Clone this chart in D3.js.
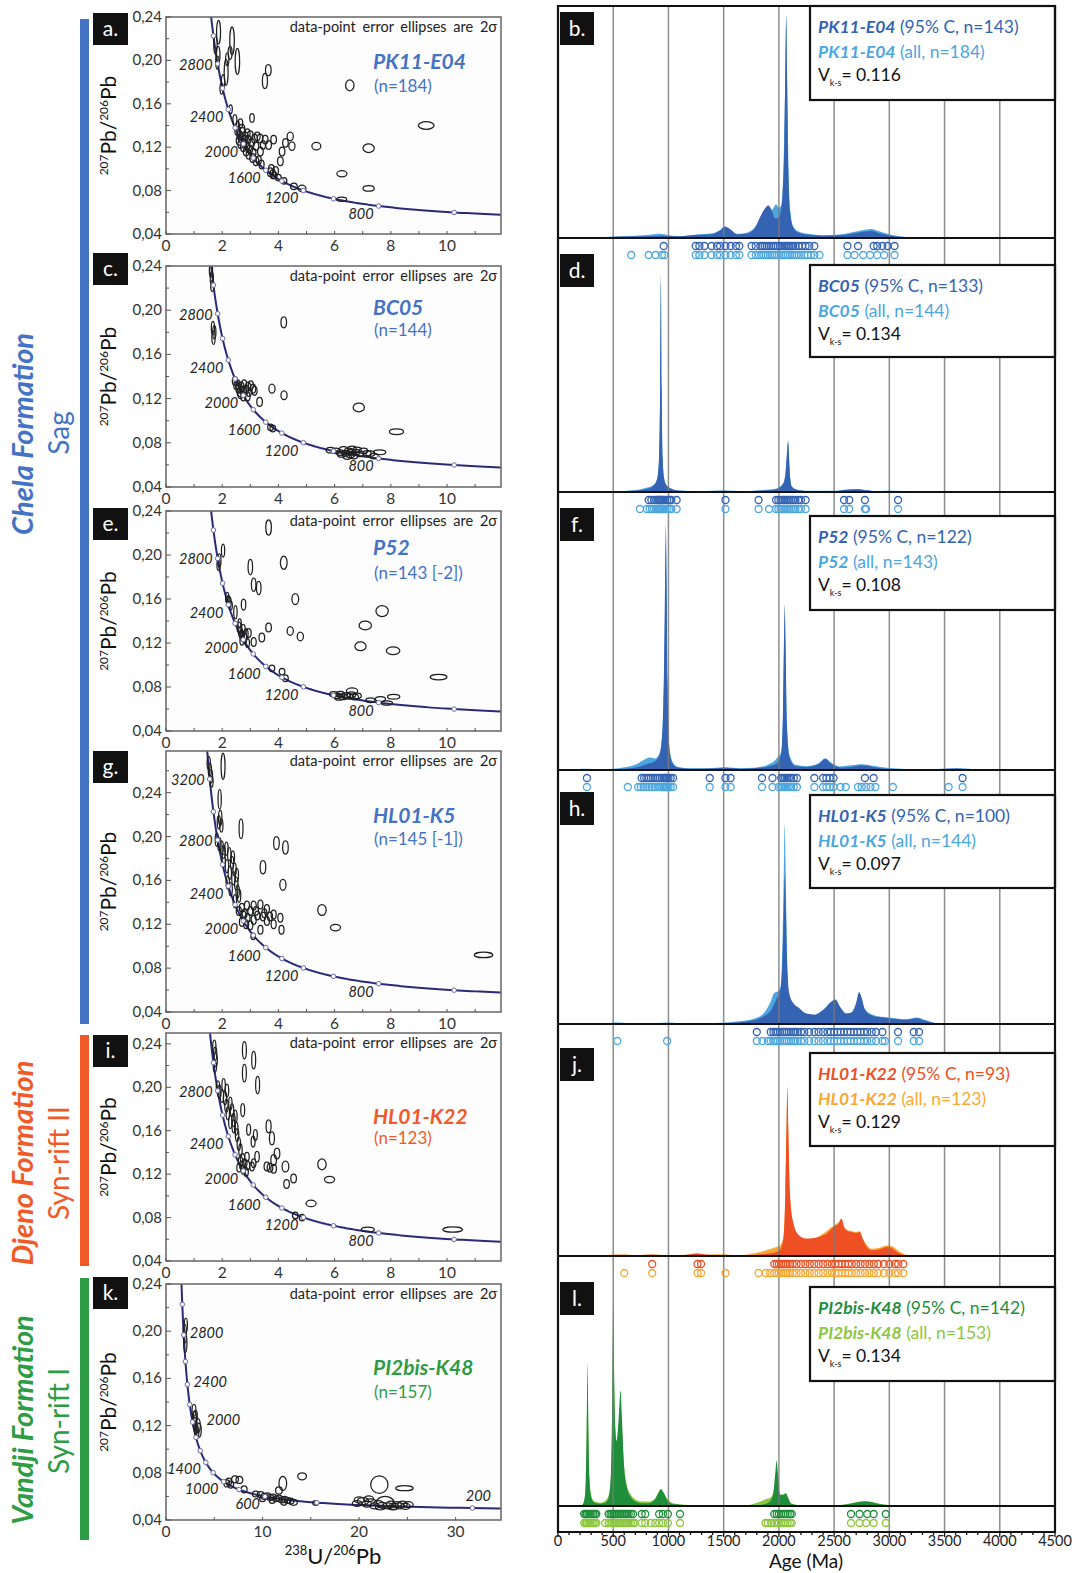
<!DOCTYPE html>
<html><head><meta charset="utf-8">
<script src="https://cdn.jsdelivr.net/npm/d3@7"></script>
<style>body{margin:0;background:#fff}svg{display:block}text{font-family:Lato,"Open Sans",sans-serif}</style>
</head><body><svg id="c" width="1076" height="1573"></svg>
<script>
// ================= DATA =================
const concordiaTickAges=[200,400,600,800,1000,1200,1400,1600,1800,2000,2200,2400,2600,2800,3000,3200,3400];
const labelsStd=[2800,2400,2000,1600,1200,800];
const labelsG=[3200,2800,2400,2000,1600,1200,800];
const labelsK=[2800,2400,2000,1400,1000,600,200];
const yTicks=[0.04,0.08,0.12,0.16,0.20,0.24];
const xTicksStd=[0,2,4,6,8,10];
const xTicksK=[0,10,20,30];
const ageTicks=[0,500,1000,1500,2000,2500,3000,3500,4000,4500];

// Tera-Wasserburg ellipses: [238U/206Pb, 207Pb/206Pb, semi-axis x, semi-axis y]
const ellA=[[1.87,0.226,0.07,0.011],[1.76,0.214,0.06,0.008],[1.85,0.205,0.07,0.008],[1.83,0.198,0.06,0.006],[2.35,0.218,0.08,0.013],[2.28,0.207,0.07,0.006],[2.18,0.201,0.06,0.006],[2.54,0.199,0.08,0.012],[2.14,0.189,0.07,0.012],[2.03,0.180,0.06,0.007],[1.98,0.174,0.06,0.005],[3.64,0.191,0.1,0.005],[3.52,0.181,0.09,0.007],[6.54,0.177,0.15,0.005],[9.26,0.140,0.28,0.0035],[7.21,0.119,0.2,0.004],[5.35,0.121,0.16,0.0035],[6.26,0.0955,0.18,0.0028],[7.21,0.082,0.2,0.0025],[6.25,0.072,0.18,0.002],[4.84,0.082,0.14,0.003],[4.55,0.084,0.12,0.003],[2.3,0.155,0.06,0.004],[2.45,0.145,0.07,0.005],[2.55,0.14,0.06,0.004],[3.06,0.147,0.08,0.004],[2.65,0.142,0.08,0.004],[2.55,0.135,0.1,0.004],[2.62,0.131,0.1,0.004],[2.68,0.128,0.1,0.004],[2.72,0.134,0.1,0.004],[2.78,0.124,0.1,0.004],[2.82,0.13,0.1,0.004],[2.88,0.121,0.1,0.004],[2.92,0.127,0.1,0.004],[2.98,0.118,0.1,0.004],[2.75,0.12,0.1,0.004],[2.85,0.116,0.1,0.004],[2.95,0.113,0.1,0.004],[2.6,0.126,0.1,0.004],[2.7,0.137,0.1,0.004],[3.0,0.131,0.1,0.004],[3.05,0.124,0.1,0.004],[3.1,0.115,0.1,0.004],[3.15,0.128,0.1,0.004],[3.2,0.121,0.1,0.004],[3.25,0.13,0.1,0.004],[2.65,0.123,0.09,0.004],[2.8,0.127,0.09,0.004],[2.9,0.133,0.09,0.004],[3.08,0.11,0.1,0.004],[3.2,0.107,0.1,0.004],[4.42,0.13,0.11,0.004],[4.48,0.121,0.11,0.004],[4.25,0.124,0.1,0.004],[4.13,0.116,0.1,0.004],[4.07,0.107,0.1,0.004],[3.83,0.127,0.1,0.004],[3.53,0.127,0.1,0.004],[3.35,0.128,0.1,0.004],[3.36,0.116,0.1,0.004],[3.65,0.122,0.1,0.004],[3.45,0.122,0.09,0.004],[3.71,0.097,0.1,0.004],[3.8,0.095,0.1,0.004],[3.9,0.098,0.1,0.004],[3.75,0.1,0.1,0.004],[3.85,0.094,0.1,0.003],[4.0,0.092,0.1,0.003],[4.2,0.089,0.1,0.003],[3.4,0.104,0.09,0.004],[3.3,0.108,0.09,0.004]];
const ellC=[[1.6,0.236,0.05,0.006],[1.63,0.229,0.05,0.006],[1.65,0.222,0.05,0.005],[1.72,0.18,0.05,0.006],[1.69,0.175,0.05,0.006],[1.67,0.184,0.05,0.006],[4.19,0.189,0.1,0.005],[2.45,0.136,0.09,0.004],[2.5,0.132,0.09,0.004],[2.58,0.129,0.09,0.004],[2.62,0.126,0.09,0.004],[2.68,0.131,0.09,0.004],[2.72,0.127,0.09,0.004],[2.78,0.133,0.09,0.004],[2.85,0.128,0.09,0.004],[2.92,0.131,0.09,0.004],[2.95,0.126,0.09,0.004],[3.02,0.132,0.09,0.004],[3.1,0.129,0.09,0.004],[3.15,0.127,0.09,0.004],[2.65,0.124,0.09,0.004],[2.75,0.122,0.09,0.004],[2.9,0.122,0.09,0.004],[2.55,0.133,0.09,0.004],[3.33,0.117,0.1,0.004],[3.77,0.129,0.11,0.004],[4.2,0.123,0.11,0.004],[6.86,0.112,0.2,0.004],[8.2,0.09,0.25,0.0025],[3.72,0.094,0.1,0.003],[3.8,0.093,0.1,0.003],[5.85,0.0733,0.15,0.0025],[6.05,0.0727,0.15,0.0025],[6.2,0.0712,0.15,0.0025],[6.32,0.074,0.15,0.0025],[6.4,0.0705,0.15,0.0025],[6.5,0.0727,0.15,0.0025],[6.56,0.069,0.15,0.0025],[6.62,0.0745,0.15,0.0025],[6.68,0.068,0.15,0.0025],[6.75,0.0715,0.15,0.0025],[6.8,0.0735,0.15,0.0025],[6.9,0.07,0.15,0.0025],[7.03,0.0727,0.15,0.0025],[7.15,0.0705,0.15,0.0025],[7.27,0.0703,0.16,0.0025],[7.6,0.0715,0.22,0.0022],[6.25,0.0695,0.15,0.0025],[6.45,0.0675,0.15,0.0025],[6.6,0.0715,0.15,0.0025],[7.4,0.068,0.15,0.0025]];
const ellE=[[3.65,0.225,0.1,0.007],[2.03,0.204,0.05,0.006],[1.9,0.195,0.05,0.006],[1.87,0.191,0.05,0.005],[4.19,0.193,0.12,0.006],[3.0,0.189,0.08,0.007],[3.12,0.173,0.08,0.006],[3.3,0.17,0.08,0.006],[4.6,0.16,0.12,0.005],[2.76,0.155,0.08,0.005],[2.47,0.148,0.06,0.006],[2.25,0.157,0.07,0.005],[2.18,0.161,0.06,0.005],[2.22,0.159,0.06,0.004],[2.3,0.154,0.06,0.004],[3.65,0.134,0.1,0.004],[2.94,0.129,0.09,0.004],[3.41,0.125,0.1,0.004],[3.12,0.121,0.09,0.004],[4.42,0.131,0.11,0.004],[4.78,0.126,0.11,0.004],[2.6,0.134,0.07,0.005],[2.65,0.13,0.07,0.005],[2.7,0.127,0.07,0.005],[2.75,0.132,0.07,0.005],[2.8,0.124,0.07,0.005],[2.85,0.128,0.07,0.005],[2.7,0.122,0.07,0.004],[2.9,0.12,0.07,0.004],[2.62,0.138,0.06,0.004],[7.09,0.136,0.22,0.004],[7.69,0.149,0.22,0.005],[6.92,0.117,0.2,0.004],[8.08,0.113,0.24,0.0035],[9.7,0.089,0.3,0.0025],[3.77,0.097,0.1,0.003],[4.13,0.094,0.1,0.003],[4.25,0.088,0.1,0.003],[5.97,0.0733,0.15,0.0025],[6.1,0.072,0.15,0.0025],[6.2,0.0735,0.15,0.0025],[6.3,0.071,0.15,0.0025],[6.4,0.0725,0.15,0.0025],[6.5,0.0715,0.15,0.0025],[6.6,0.073,0.15,0.0025],[6.62,0.0764,0.2,0.0028],[6.7,0.071,0.15,0.0025],[6.8,0.072,0.15,0.0025],[7.27,0.068,0.16,0.0022],[7.63,0.069,0.18,0.0022],[8.1,0.0712,0.22,0.0022],[7.86,0.0655,0.2,0.002],[6.15,0.0705,0.15,0.0025]];
const ellG=[[1.52,0.267,0.05,0.006],[1.56,0.261,0.05,0.006],[1.6,0.255,0.05,0.006],[1.62,0.25,0.05,0.005],[2.03,0.264,0.07,0.012],[1.91,0.234,0.05,0.009],[1.93,0.217,0.06,0.007],[1.88,0.213,0.05,0.006],[1.97,0.21,0.05,0.006],[2.67,0.207,0.07,0.009],[3.93,0.194,0.1,0.006],[4.25,0.19,0.1,0.006],[3.45,0.172,0.1,0.006],[4.16,0.156,0.11,0.005],[1.81,0.197,0.06,0.006],[1.9,0.193,0.06,0.006],[1.98,0.19,0.06,0.006],[2.05,0.186,0.06,0.006],[2.15,0.189,0.06,0.006],[2.25,0.184,0.06,0.006],[2.38,0.181,0.06,0.006],[2.05,0.178,0.06,0.006],[2.17,0.173,0.06,0.006],[2.27,0.167,0.06,0.006],[2.4,0.162,0.06,0.006],[2.5,0.157,0.06,0.006],[2.55,0.15,0.06,0.006],[2.6,0.146,0.06,0.006],[2.35,0.176,0.06,0.006],[2.44,0.17,0.06,0.006],[2.52,0.165,0.06,0.006],[2.2,0.158,0.06,0.006],[2.3,0.152,0.06,0.006],[2.45,0.141,0.06,0.006],[2.7,0.135,0.09,0.004],[2.8,0.13,0.09,0.004],[2.88,0.137,0.09,0.004],[2.9,0.126,0.09,0.004],[3.0,0.132,0.09,0.004],[3.12,0.137,0.09,0.004],[3.36,0.138,0.09,0.004],[3.59,0.134,0.09,0.004],[3.83,0.129,0.09,0.004],[4.07,0.126,0.09,0.004],[3.12,0.124,0.09,0.004],[3.36,0.115,0.09,0.004],[3.59,0.123,0.09,0.004],[3.83,0.12,0.09,0.004],[4.11,0.115,0.09,0.004],[2.76,0.128,0.09,0.004],[2.59,0.132,0.09,0.004],[2.7,0.122,0.09,0.004],[2.85,0.12,0.09,0.004],[3.25,0.128,0.09,0.004],[3.45,0.127,0.09,0.004],[3.7,0.127,0.09,0.004],[3.0,0.119,0.09,0.004],[3.2,0.132,0.09,0.004],[3.5,0.13,0.09,0.004],[5.55,0.133,0.15,0.005],[6.03,0.117,0.18,0.003],[11.3,0.092,0.33,0.0025],[3.1,0.109,0.08,0.003]];
const ellI=[[1.72,0.2375,0.05,0.006],[1.75,0.231,0.05,0.006],[1.77,0.225,0.05,0.006],[1.74,0.219,0.05,0.005],[2.79,0.234,0.07,0.008],[3.12,0.225,0.07,0.008],[2.79,0.213,0.07,0.008],[3.26,0.202,0.07,0.008],[2.73,0.179,0.07,0.006],[1.85,0.2,0.06,0.006],[1.9,0.196,0.06,0.006],[2.05,0.202,0.06,0.006],[2.17,0.197,0.06,0.006],[1.99,0.192,0.06,0.006],[2.1,0.19,0.06,0.006],[2.29,0.185,0.06,0.006],[2.35,0.179,0.06,0.006],[2.47,0.173,0.06,0.006],[2.29,0.168,0.06,0.006],[2.41,0.164,0.06,0.006],[2.53,0.156,0.06,0.006],[2.59,0.148,0.06,0.006],[2.65,0.142,0.06,0.006],[2.2,0.176,0.06,0.006],[2.15,0.183,0.06,0.006],[2.4,0.17,0.06,0.006],[2.5,0.162,0.06,0.006],[2.94,0.161,0.07,0.005],[3.18,0.156,0.07,0.005],[3.1,0.15,0.07,0.005],[3.65,0.164,0.09,0.006],[3.77,0.153,0.09,0.006],[3.95,0.139,0.1,0.005],[3.59,0.127,0.1,0.004],[3.24,0.136,0.08,0.005],[3.12,0.13,0.08,0.004],[3.83,0.133,0.1,0.005],[3.83,0.125,0.1,0.004],[4.25,0.127,0.12,0.005],[4.29,0.111,0.1,0.004],[4.54,0.116,0.1,0.004],[2.88,0.136,0.08,0.004],[3.06,0.127,0.08,0.004],[3.7,0.126,0.1,0.004],[2.65,0.132,0.08,0.004],[2.7,0.128,0.08,0.004],[2.75,0.124,0.08,0.004],[2.8,0.13,0.08,0.004],[2.6,0.126,0.08,0.004],[2.72,0.135,0.08,0.004],[2.85,0.122,0.08,0.004],[2.9,0.128,0.08,0.004],[5.55,0.129,0.15,0.005],[5.82,0.115,0.18,0.003],[5.16,0.093,0.18,0.003],[7.18,0.069,0.23,0.0022],[10.2,0.069,0.35,0.0025],[4.6,0.082,0.1,0.003],[4.84,0.08,0.1,0.003]];
const ellK=[[1.95,0.198,0.15,0.008],[2.0,0.19,0.15,0.008],[2.05,0.205,0.12,0.006],[2.9,0.133,0.2,0.005],[2.95,0.127,0.2,0.005],[3.0,0.122,0.2,0.005],[3.1,0.118,0.2,0.005],[3.2,0.114,0.2,0.005],[3.3,0.12,0.25,0.006],[3.4,0.116,0.25,0.006],[3.05,0.128,0.2,0.005],[6.3,0.071,0.3,0.003],[6.5,0.0725,0.3,0.003],[6.7,0.07,0.3,0.003],[7.15,0.0745,0.35,0.003],[7.6,0.074,0.35,0.003],[8.1,0.066,0.3,0.003],[9.3,0.062,0.35,0.0025],[12.1,0.071,0.4,0.006],[11.7,0.065,0.35,0.003],[14.1,0.077,0.45,0.003],[9.8,0.0615,0.35,0.0025],[10.2,0.06,0.35,0.0025],[10.5,0.0605,0.35,0.0025],[10.8,0.059,0.35,0.0025],[11.1,0.0595,0.35,0.0025],[11.4,0.058,0.35,0.0025],[11.7,0.0585,0.35,0.0025],[12.0,0.057,0.35,0.0025],[12.3,0.0575,0.35,0.0025],[12.6,0.0565,0.35,0.0025],[12.9,0.056,0.35,0.0025],[10.0,0.058,0.3,0.0025],[11.0,0.0565,0.3,0.0025],[12.2,0.055,0.3,0.0025],[13.2,0.055,0.4,0.0025],[15.5,0.0545,0.3,0.002],[22.1,0.07,0.9,0.0075],[24.7,0.067,0.9,0.0022],[19.8,0.054,0.5,0.0025],[20.4,0.056,0.6,0.003],[20.8,0.0535,0.5,0.0025],[21.2,0.055,0.6,0.003],[21.6,0.052,0.5,0.0025],[22.0,0.054,0.5,0.0025],[22.4,0.0525,0.5,0.0025],[22.7,0.055,0.9,0.005],[23.0,0.052,0.5,0.0025],[23.3,0.0535,0.5,0.0025],[23.6,0.0515,0.5,0.0025],[23.9,0.053,0.5,0.0025],[24.2,0.052,0.5,0.0025],[24.5,0.0535,0.5,0.0025],[24.8,0.0515,0.5,0.0025],[25.1,0.053,0.5,0.0025],[22.2,0.0505,0.5,0.002],[23.5,0.0505,0.5,0.002],[20.0,0.057,0.5,0.0025],[21.0,0.058,0.5,0.0025]];

// KDE curves: [age Ma, relative density %]
const kdeB_dark=[[150,0],[400,0.3],[600,0.6],[800,0.8],[950,1.0],[1100,0.8],[1250,1.3],[1400,1.6],[1460,3.0],[1510,5.0],[1560,3.8],[1620,1.6],[1700,1.8],[1780,4],[1830,9],[1870,12.5],[1905,14],[1935,12],[1965,8.5],[1990,8.5],[2015,11],[2035,20],[2050,42],[2060,78],[2066,96],[2073,72],[2085,30],[2100,12],[2125,5],[2170,2.5],[2250,1.5],[2400,1.0],[2550,1.2],[2700,2.2],[2780,2.8],[2840,3.0],[2900,2.2],[3000,1.2],[3100,0.5],[3300,0.2],[3500,0]];
const kdeB_light=[[150,0],[400,0.4],[600,0.8],[700,1.0],[850,1.5],[920,1.8],[1000,1.2],[1100,0.8],[1250,1.5],[1400,2.0],[1460,3.2],[1510,4.2],[1560,3.4],[1620,1.8],[1700,2.2],[1780,4.5],[1830,8],[1870,10],[1910,11],[1945,12.5],[1975,14.6],[2000,13],[2020,14],[2040,28],[2055,60],[2066,94],[2076,65],[2088,28],[2105,11],[2130,5],[2180,2.8],[2260,1.8],[2400,1.2],[2550,1.5],[2700,2.8],[2780,3.6],[2840,3.9],[2900,3.0],[3000,1.5],[3100,0.7],[3300,0.2],[3500,0]];
const kdeD_dark=[[300,0],[500,0.2],[700,0.6],[820,1.5],[870,3],[900,6],[915,15],[925,45],[932,93],[939,45],[948,15],[960,6],[980,3],[1020,1.5],[1100,0.5],[1300,0.2],[1500,0.5],[1650,0.3],[1850,0.6],[1980,1.2],[2040,3.5],[2062,9],[2075,18],[2083,22],[2091,16],[2102,6],[2120,2],[2170,0.8],[2300,0.4],[2500,0.4],[2620,1.0],[2700,1.2],[2780,0.8],[2900,0.3],[3050,0.4],[3200,0]];
const kdeD_light=[[300,0],[500,0.3],[700,0.8],[800,1.8],[870,3.2],[900,6],[915,14],[925,42],[932,90],[939,42],[948,14],[960,6],[980,3],[1020,1.6],[1100,0.6],[1300,0.3],[1500,0.6],[1650,0.4],[1850,0.8],[1980,1.5],[2040,3.8],[2062,9],[2075,17],[2083,21],[2091,15],[2102,6],[2120,2.2],[2170,1],[2300,0.5],[2500,0.5],[2620,1.1],[2700,1.3],[2780,0.9],[2900,0.4],[3050,0.5],[3200,0]];
const kdeF_dark=[[100,0],[250,0.4],[400,0.2],[600,0.5],[750,1.5],[820,2.5],[880,3.5],[920,6],[945,15],[960,40],[970,75],[976,95],[983,75],[992,35],[1005,10],[1030,3],[1080,1],[1200,0.5],[1400,0.6],[1520,0.9],[1650,0.5],[1800,0.8],[1900,1.3],[1980,2.5],[2020,6],[2038,25],[2048,55],[2053,64],[2060,50],[2072,18],[2095,5],[2150,1.5],[2250,1.2],[2350,2],[2420,4.3],[2470,2.5],[2550,1],[2650,1.2],[2750,1.8],[2850,1.2],[3000,0.4],[3300,0.2],[3600,0.6],[3700,0.3],[3900,0]];
const kdeF_light=[[100,0],[250,0.5],[400,0.3],[550,0.7],[700,2],[780,4],[830,4.8],[880,4.5],[920,6.5],[945,14],[960,35],[970,65],[976,88],[983,68],[992,32],[1005,11],[1030,4],[1080,1.3],[1200,0.7],[1400,0.8],[1520,1.1],[1650,0.7],[1800,1.0],[1900,2],[1980,4.5],[2020,7],[2038,22],[2048,50],[2053,60],[2060,46],[2072,18],[2095,6],[2150,2],[2250,1.5],[2350,2.4],[2420,4.6],[2470,3],[2550,1.4],[2650,1.8],[2750,2.2],[2850,1.6],[3000,0.8],[3300,0.3],[3550,0.6],[3650,0.7],[3800,0.2],[3950,0]];
const kdeH_dark=[[400,0],[600,0.3],[900,0.3],[1100,0.2],[1400,0.3],[1700,1.0],[1850,3],[1930,6],[1980,11],[2010,14],[2030,24],[2045,50],[2055,64],[2063,50],[2075,25],[2095,13],[2130,9],[2180,7],[2250,4.5],[2330,4],[2400,6],[2470,9.5],[2511,10.6],[2560,7],[2610,4.5],[2660,5],[2700,9],[2725,13.7],[2745,12],[2780,6],[2850,3.5],[2950,2.8],[3050,2.2],[3150,1.8],[3250,2.5],[3320,1.5],[3420,0.3],[3550,0]];
const kdeH_light=[[400,0],[537,0.6],[650,0.3],[900,0.4],[990,0.6],[1100,0.3],[1400,0.4],[1700,1.5],[1850,4],[1920,9],[1960,13.5],[1990,14],[2015,16],[2035,40],[2048,75],[2053,86],[2060,70],[2072,35],[2090,12],[2120,5],[2180,3.5],[2250,3.5],[2330,4],[2400,6],[2470,8.5],[2511,9],[2560,6.5],[2610,4.5],[2660,5],[2700,9],[2725,12.3],[2745,11],[2780,6.5],[2850,4],[2950,3],[3050,2.5],[3150,2],[3250,2.8],[3320,1.8],[3420,0.4],[3550,0]];
const kdeJ_dark=[[200,0],[400,0.3],[700,0.3],[850,0.6],[1000,0.3],[1150,0.5],[1260,1.2],[1350,0.6],[1500,0.2],[1700,0.3],[1850,0.8],[1950,1.5],[2010,3],[2040,8],[2058,30],[2070,65],[2078,81],[2086,60],[2100,30],[2130,16],[2180,10],[2240,8.4],[2300,8.5],[2380,9.5],[2432,10.7],[2495,13.9],[2540,15.5],[2567,17.9],[2590,14],[2620,12],[2660,11.5],[2700,11],[2732,11.5],[2760,8],[2800,4],[2842,2.8],[2900,3],[2984,4.4],[3030,3.5],[3080,1.5],[3150,0.3],[3220,0]];
const kdeJ_light=[[200,0],[400,0.4],[600,0.8],[700,0.4],[850,0.8],[1000,0.4],[1150,0.6],[1260,1.3],[1350,0.7],[1500,0.8],[1600,0.3],[1700,0.6],[1800,1.5],[1900,3],[1958,4],[2010,5],[2040,9],[2058,28],[2070,60],[2078,78],[2086,56],[2100,28],[2130,14],[2180,8],[2240,6.5],[2300,7.5],[2380,10],[2432,12],[2495,14.5],[2540,16],[2567,17],[2590,14],[2620,12.5],[2660,12],[2700,11.5],[2732,11.8],[2760,8.5],[2800,5],[2842,3.5],[2900,3.8],[2984,5],[3032,4.5],[3080,2.5],[3150,0.6],[3220,0]];
const kdeL_dark=[[150,0],[220,0.5],[240,3],[252,12],[260,35],[268,63],[275,35],[285,12],[300,4],[330,1.5],[380,1],[430,1.5],[460,4],[480,15],[492,50],[500,90.5],[508,60],[518,36],[530,29],[548,38],[560,48],[568,51.2],[578,40],[595,20],[620,9],[660,4],[700,2],[760,1.2],[820,1.2],[880,3],[910,6],[932,7.6],[955,6],[985,3],[1030,1],[1100,0.6],[1300,0.1],[1700,0.1],[1850,0.6],[1920,2],[1950,6],[1968,15],[1980,20.2],[1992,14],[2010,5],[2040,5],[2062,5.7],[2085,3.5],[2110,1],[2200,0.2],[2500,0.1],[2650,1.0],[2780,2.0],[2900,1.0],[3000,0.3],[3200,0]];
const kdeL_light=[[150,0],[220,0.6],[240,3],[252,11],[260,30],[268,55],[275,32],[285,12],[300,5],[330,2],[380,1.5],[430,2.5],[460,5],[480,14],[492,42],[500,80],[508,55],[518,34],[530,28],[548,34],[560,42],[568,45],[578,36],[595,20],[620,10],[660,5],[700,3],[760,2],[820,2],[880,3.5],[910,6],[932,7],[955,6],[985,3.5],[1030,1.5],[1100,0.8],[1300,0.2],[1700,0.3],[1800,1.5],[1880,3],[1930,4],[1955,7],[1970,13],[1980,17],[1992,12],[2010,5],[2040,5],[2062,5.5],[2085,3.5],[2110,1.2],[2200,0.3],[2500,0.2],[2650,1.2],[2780,2.2],[2900,1.1],[3000,0.4],[3200,0]];

// individual ages (Ma): 95% concordant (dark) and all (light)
const dotsB_dark=[957,1247,1280,1326,1390,1440,1468,1516,1563,1611,1642,1753,1790,1832,1850,1870,1890,1910,1930,1950,1970,1990,2010,2030,2050,2065,2080,2095,2110,2130,2150,2179,2210,2242,2274,2321,2621,2716,2858,2890,2937,2984,3047];
const dotsB_light=[663,821,884,941,963,1247,1280,1326,1390,1440,1468,1516,1563,1611,1642,1753,1790,1820,1840,1860,1880,1900,1920,1940,1960,1980,2000,2020,2040,2060,2080,2100,2120,2140,2160,2180,2200,2230,2260,2290,2321,2368,2621,2684,2763,2826,2890,2953,3047];
const dotsD_dark=[821,845,870,890,905,915,925,935,945,955,970,990,1010,1026,1074,1516,1816,1974,1995,2015,2035,2050,2065,2080,2095,2110,2130,2150,2175,2200,2242,2590,2637,2779,3079];
const dotsD_light=[742,805,830,850,870,890,905,915,925,935,945,955,970,990,1010,1026,1074,1516,1816,1911,1974,1995,2015,2035,2050,2065,2080,2095,2110,2130,2150,2175,2200,2242,2590,2637,2779,2790,3079];
const dotsF_dark=[262,758,780,800,820,840,860,880,900,920,940,955,965,975,985,1000,1020,1042,1374,1516,1563,1847,1942,2021,2040,2055,2070,2090,2110,2135,2163,2321,2400,2430,2460,2495,2779,2858,3663];
const dotsF_light=[262,632,726,750,775,800,825,850,875,900,920,940,955,965,975,985,1000,1020,1042,1374,1516,1563,1847,1942,2000,2021,2040,2055,2070,2090,2110,2135,2163,2321,2400,2430,2460,2495,2558,2605,2716,2750,2790,2830,2874,3032,3537,3663];
const dotsH_dark=[1800,1926,1950,1970,1990,2010,2030,2050,2070,2090,2110,2130,2150,2170,2200,2230,2274,2321,2360,2400,2440,2470,2500,2530,2560,2590,2620,2650,2680,2710,2740,2770,2800,2840,2880,2937,3079,3221,3269];
const dotsH_light=[537,988,1800,1850,1900,1926,1950,1970,1990,2010,2030,2050,2070,2090,2110,2130,2150,2170,2200,2230,2274,2321,2360,2400,2440,2470,2500,2530,2560,2590,2620,2650,2680,2710,2740,2770,2800,2840,2880,2937,2960,3079,3221,3269];
const dotsJ_dark=[853,1263,1295,1958,1980,2000,2020,2040,2060,2080,2100,2125,2160,2200,2240,2280,2320,2360,2400,2440,2480,2510,2540,2570,2600,2630,2660,2700,2740,2780,2820,2860,2900,2950,3000,3050,3080,3126];
const dotsJ_light=[600,853,1263,1295,1516,1816,1880,1920,1958,1980,2000,2020,2040,2060,2080,2100,2125,2160,2200,2240,2280,2320,2360,2400,2440,2480,2510,2540,2570,2600,2630,2660,2700,2740,2780,2820,2860,2900,2950,3000,3050,3080,3126];
const dotsL_dark=[237,250,262,275,290,305,320,335,347,458,475,490,505,520,535,550,565,580,595,610,625,640,660,679,758,790,916,950,995,1105,1958,1980,2000,2020,2040,2060,2080,2100,2116,2653,2730,2800,2858,2968];
const dotsL_light=[237,250,262,275,290,305,320,335,347,427,458,475,490,505,520,535,550,565,580,595,610,625,640,660,679,695,758,790,840,880,916,950,995,1105,1879,1900,1930,1958,1980,2000,2020,2040,2060,2080,2100,2116,2653,2730,2790,2858,2968];

// ================= STYLE / LAYOUT =================
const BLUE='#4472C4', ORANGE='#F05A28', GREEN='#2E9B45';
const KDE_BLUE=['#3363B2','#4CA6E0'], KDE_ORANGE=['#EE5023','#F9A732'], KDE_GREEN=['#1F8E3B','#8DC63F'];
const svg=d3.select('#c');
svg.append('rect').attr('width',1076).attr('height',1573).attr('fill','#fff');

const L238=1.55125e-4, L235=9.8485e-4;
function tw(t){const e8=Math.exp(L238*t)-1,e5=Math.exp(L235*t)-1;return [1/e8,e5/e8/137.88];}
const curveAges=d3.range(40,3700,8);
const fmt=d=>d3.format('.2f')(d).replace('.',',');

const leftPanels=[
 {L:'a',name:'PK11-E04',n:'(n=184)',col:BLUE,ell:ellA,xMax:11.92,yMax:0.24,top:17,bot:234,lab:13,nameDy:52,nDy:75,labels:labelsStd,xt:xTicksStd,xm:1},
 {L:'c',name:'BC05',n:'(n=144)',col:BLUE,ell:ellC,xMax:11.92,yMax:0.24,top:266,bot:487,lab:253,nameDy:49,nDy:70,labels:labelsStd,xt:xTicksStd,xm:1},
 {L:'e',name:'P52',n:'(n=143 [-2])',col:BLUE,ell:ellE,xMax:11.92,yMax:0.24,top:511,bot:731,lab:508,nameDy:44,nDy:68,labels:labelsStd,xt:xTicksStd,xm:1},
 {L:'g',name:'HL01-K5',n:'(n=145 [-1])',col:BLUE,ell:ellG,xMax:11.92,yMax:0.278,top:751,bot:1012,lab:751,nameDy:72,nDy:94,labels:labelsG,xt:xTicksStd,xm:1},
 {L:'i',name:'HL01-K22',n:'(n=123)',col:ORANGE,ell:ellI,xMax:11.92,yMax:0.25,top:1033,bot:1261,lab:1035,nameDy:91,nDy:111,labels:labelsStd,xt:xTicksStd,xm:1},
 {L:'k',name:'PI2bis-K48',n:'(n=157)',col:GREEN,ell:ellK,xMax:34.7,yMax:0.24,top:1284,bot:1520,lab:1277,nameDy:91,nDy:114,labels:labelsK,xt:xTicksK,xm:5,kStyle:true}
];
const PL=166, PR=501;

leftPanels.forEach((p,i)=>{
  const g=svg.append('g');
  const x=d3.scaleLinear().domain([0,p.xMax]).range([PL,PR]);
  const y=d3.scaleLinear().domain([0.04,p.yMax]).range([p.bot,p.top]);
  const cid='clipL'+i;
  svg.append('clipPath').attr('id',cid).append('rect').attr('x',PL).attr('y',p.top).attr('width',PR-PL).attr('height',p.bot-p.top);
  g.append('rect').attr('x',PL).attr('y',p.top).attr('width',PR-PL).attr('height',p.bot-p.top).attr('fill','#fdfdfd');
  const inner=g.append('g').attr('clip-path',`url(#${cid})`);
  const line=d3.line().x(d=>x(tw(d)[0])).y(d=>y(tw(d)[1]));
  inner.append('path').attr('d',line(curveAges)).attr('fill','none').attr('stroke','#2b2a78').attr('stroke-width',2);
  inner.selectAll('ellipse.e').data(p.ell).join('ellipse')
    .attr('cx',d=>x(d[0])).attr('cy',d=>y(d[1]))
    .attr('rx',d=>Math.max(1.6,x(d[2])-x(0))).attr('ry',d=>Math.max(1.6,y(0.04)-y(0.04+d[3])))
    .attr('fill','none').attr('stroke','#1f1f1f').attr('stroke-width',1.25);
  inner.selectAll('circle.t').data(concordiaTickAges).join('circle')
    .attr('cx',d=>x(tw(d)[0])).attr('cy',d=>y(tw(d)[1])).attr('r',2.3)
    .attr('fill','#fff').attr('stroke','#6b6ba8').attr('stroke-width',1);
  p.labels.forEach(t=>{
    const px=x(tw(t)[0]), py=y(tw(t)[1]);
    let ax='end',dx=-5,dy=(t>=2700?6:13);
    if(p.kStyle){
      if(t>=2000){ax='start';dx=(t===2000?14:6);dy=3;}
      else if(t<=200){ax='middle';dx=6;dy=-7;}
      else {ax='end';dx=-5;dy=12;}
    }
    g.append('text').attr('x',px+dx).attr('y',py+dy).attr('text-anchor',ax)
      .attr('font-family','"Open Sans",sans-serif').attr('font-style','italic').attr('font-size',14.5).attr('fill','#222').text(t);
  });
  g.append('rect').attr('x',PL).attr('y',p.top).attr('width',PR-PL).attr('height',p.bot-p.top).attr('fill','none').attr('stroke','#6e6e6e').attr('stroke-width',1.6);
  const yMinor=d3.range(0.06,p.yMax,0.04);
  g.selectAll('line.ym').data(yMinor).join('line').attr('x1',PL).attr('x2',PL+3).attr('y1',d=>y(d)).attr('y2',d=>y(d)).attr('stroke','#555');
  g.selectAll('line.yM').data(yTicks).join('line').attr('x1',PL).attr('x2',PL+5).attr('y1',d=>y(d)).attr('y2',d=>y(d)).attr('stroke','#555');
  g.selectAll('text.yl').data(yTicks).join('text').attr('x',PL-4).attr('y',d=>y(d)+5).attr('text-anchor','end').attr('font-size',15).attr('fill','#333').text(fmt);
  const xMinor=d3.range(0,p.xMax,p.xm);
  g.selectAll('line.xm').data(xMinor).join('line').attr('x1',d=>x(d)).attr('x2',d=>x(d)).attr('y1',p.bot).attr('y2',p.bot-3).attr('stroke','#555');
  g.selectAll('text.xl').data(p.xt).join('text').attr('x',d=>x(d)).attr('y',p.bot+17).attr('text-anchor','middle').attr('font-size',15.5).attr('fill','#333').text(d=>d);
  g.append('text').attr('x',PR-4).attr('y',p.top+15).attr('text-anchor','end').attr('font-size',14.5).attr('word-spacing',3).attr('fill','#222').text('data-point error ellipses are 2σ');
  g.append('text').attr('x',373).attr('y',p.top+p.nameDy).attr('font-size',21).attr('font-weight',700).attr('font-style','italic').attr('fill',p.col).text(p.name);
  g.append('text').attr('x',374).attr('y',p.top+p.nDy).attr('font-size',17).attr('fill',p.col).text(p.n);
  g.append('rect').attr('x',93).attr('y',p.lab).attr('width',35).attr('height',32).attr('fill','#111');
  g.append('text').attr('x',110.5).attr('y',p.lab+23).attr('text-anchor','middle').attr('font-size',21).attr('fill','#fff').text(p.L+'.');
  const yt=g.append('text').attr('transform',`translate(116,${(p.top+p.bot)/2}) rotate(-90)`).attr('text-anchor','middle').attr('font-size',21).attr('fill','#111');
  yt.append('tspan').attr('font-size',12).attr('dy',-8).text('207');
  yt.append('tspan').attr('dy',8).text('Pb/');
  yt.append('tspan').attr('font-size',12).attr('dy',-8).text('206');
  yt.append('tspan').attr('dy',8).text('Pb');
});
{const t=svg.append('text').attr('x',333).attr('y',1564).attr('text-anchor','middle').attr('font-size',22).attr('fill','#111');
 t.append('tspan').attr('font-size',13).attr('dy',-9).text('238');
 t.append('tspan').attr('dy',9).text('U/');
 t.append('tspan').attr('font-size',13).attr('dy',-9).text('206');
 t.append('tspan').attr('dy',9).text('Pb');}

const formations=[
 {name:'Chela Formation',sub:'Sag',col:BLUE,y0:19,y1:1024,cy:434,cs:433},
 {name:'Djeno Formation',sub:'Syn-rift II',col:ORANGE,y0:1035,y1:1266,cy:1163,cs:1163},
 {name:'Vandji Formation',sub:'Syn-rift I',col:GREEN,y0:1278,y1:1540,cy:1420,cs:1421}
];
formations.forEach(f=>{
  svg.append('rect').attr('x',80).attr('y',f.y0).attr('width',9).attr('height',f.y1-f.y0).attr('fill',f.col);
  svg.append('text').attr('transform',`translate(33,${f.cy}) rotate(-90)`).attr('text-anchor','middle').attr('font-size',29).attr('font-weight',700).attr('font-style','italic').attr('fill',f.col).text(f.name);
  svg.append('text').attr('transform',`translate(69,${f.cs}) rotate(-90)`).attr('text-anchor','middle').attr('font-size',28).attr('fill',f.col).text(f.sub);
});

// ================= RIGHT: KDE =================
const xA=d3.scaleLinear().domain([0,4500]).range([558,1055]);
const RT=6, RB=1532;
const rightPanels=[
 {L:'b',s:'PK11-E04',n1:'(95% C, n=143)',n2:'(all, n=184)',v:'0.116',c:KDE_BLUE,dark:kdeB_dark,light:kdeB_light,dD:dotsB_dark,dL:dotsB_light,top:6,base:238,lab:12,lg:[6,100]},
 {L:'d',s:'BC05',n1:'(95% C, n=133)',n2:'(all, n=144)',v:'0.134',c:KDE_BLUE,dark:kdeD_dark,light:kdeD_light,dD:dotsD_dark,dL:dotsD_light,top:258,base:492,lab:254,lg:[265,357]},
 {L:'f',s:'P52',n1:'(95% C, n=122)',n2:'(all, n=143)',v:'0.108',c:KDE_BLUE,dark:kdeF_dark,light:kdeF_light,dD:dotsF_dark,dL:dotsF_light,top:512,base:770,lab:508,lg:[516,610]},
 {L:'h',s:'HL01-K5',n1:'(95% C, n=100)',n2:'(all, n=144)',v:'0.097',c:KDE_BLUE,dark:kdeH_dark,light:kdeH_light,dD:dotsH_dark,dL:dotsH_light,top:792,base:1024,lab:792,lg:[795,888]},
 {L:'j',s:'HL01-K22',n1:'(95% C, n=93)',n2:'(all, n=123)',v:'0.129',c:KDE_ORANGE,dark:kdeJ_dark,light:kdeJ_light,dD:dotsJ_dark,dL:dotsJ_light,top:1047,base:1256,lab:1048,lg:[1053,1146]},
 {L:'l',s:'PI2bis-K48',n1:'(95% C, n=142)',n2:'(all, n=153)',v:'0.134',c:KDE_GREEN,dark:kdeL_dark,light:kdeL_light,dD:dotsL_dark,dL:dotsL_light,top:1281,base:1506,lab:1282,lg:[1287,1381]}
];
const rg=svg.append('g');
rightPanels.forEach(p=>{
  const y=d3.scaleLinear().domain([0,100]).range([p.base,p.top]);
  const area=d3.area().x(d=>xA(d[0])).y0(p.base).y1(d=>y(d[1])).curve(d3.curveMonotoneX);
  rg.append('path').attr('d',area(p.light)).attr('fill',p.c[1]);
  rg.append('path').attr('d',area(p.dark)).attr('fill',p.c[0]);
});
rg.selectAll('line.grid').data(ageTicks.slice(1,-1)).join('line')
  .attr('x1',d=>xA(d)).attr('x2',d=>xA(d)).attr('y1',RT).attr('y2',RB).attr('stroke','#7a7a7a').attr('stroke-width',1.5).attr('stroke-opacity',0.85);
rightPanels.forEach(p=>{
  rg.append('line').attr('x1',558).attr('x2',1055).attr('y1',p.base).attr('y2',p.base).attr('stroke','#111').attr('stroke-width',2.2);
  rg.selectAll(null).data(p.dD).join('circle').attr('cx',d=>xA(d)).attr('cy',p.base+8).attr('r',3.5).attr('fill','none').attr('stroke',p.c[0]).attr('stroke-width',1.3);
  rg.selectAll(null).data(p.dL).join('circle').attr('cx',d=>xA(d)).attr('cy',p.base+17).attr('r',3.5).attr('fill','none').attr('stroke',p.c[1]).attr('stroke-width',1.3);
  rg.append('rect').attr('x',810).attr('y',p.lg[0]).attr('width',245).attr('height',p.lg[1]-p.lg[0]).attr('fill','#fff').attr('stroke','#111').attr('stroke-width',2.2);
  const t1=rg.append('text').attr('x',818).attr('y',p.lg[0]+27).attr('font-size',17.5).attr('fill',p.c[0]);
  t1.append('tspan').attr('font-weight',700).attr('font-style','italic').text(p.s);
  t1.append('tspan').text(' '+p.n1);
  const t2=rg.append('text').attr('x',818).attr('y',p.lg[0]+52).attr('font-size',17.5).attr('fill',p.c[1]);
  t2.append('tspan').attr('font-weight',700).attr('font-style','italic').text(p.s);
  t2.append('tspan').text(' '+p.n2);
  const t3=rg.append('text').attr('x',818).attr('y',p.lg[0]+75).attr('font-size',17.5).attr('fill','#111');
  t3.append('tspan').text('V');
  t3.append('tspan').attr('font-size',9).attr('dy',5).text('k-s');
  t3.append('tspan').attr('dy',-5).text('= '+p.v);
  rg.append('rect').attr('x',560).attr('y',p.lab).attr('width',34).attr('height',33).attr('fill','#111');
  rg.append('text').attr('x',577).attr('y',p.lab+24).attr('text-anchor','middle').attr('font-size',21).attr('fill','#fff').text(p.L+'.');
});
rg.append('path').attr('d',`M558,${RB}V${RT}H1055V${RB}Z`).attr('fill','none').attr('stroke','#111').attr('stroke-width',2.2);
const minorAges=d3.range(0,4501,100);
rg.selectAll('line.am').data(minorAges).join('line').attr('x1',d=>xA(d)).attr('x2',d=>xA(d)).attr('y1',RB).attr('y2',d=>RB+(d%500===0?5:3)).attr('stroke','#111').attr('stroke-width',1.3);
rg.selectAll('text.al').data(ageTicks).join('text').attr('x',d=>xA(d)).attr('y',RB+14).attr('text-anchor','middle').attr('font-size',14.5).attr('fill','#222').text(d=>d);
rg.append('text').attr('x',806).attr('y',1568).attr('text-anchor','middle').attr('font-size',19).attr('fill','#111').text('Age (Ma)');
</script></body></html>
